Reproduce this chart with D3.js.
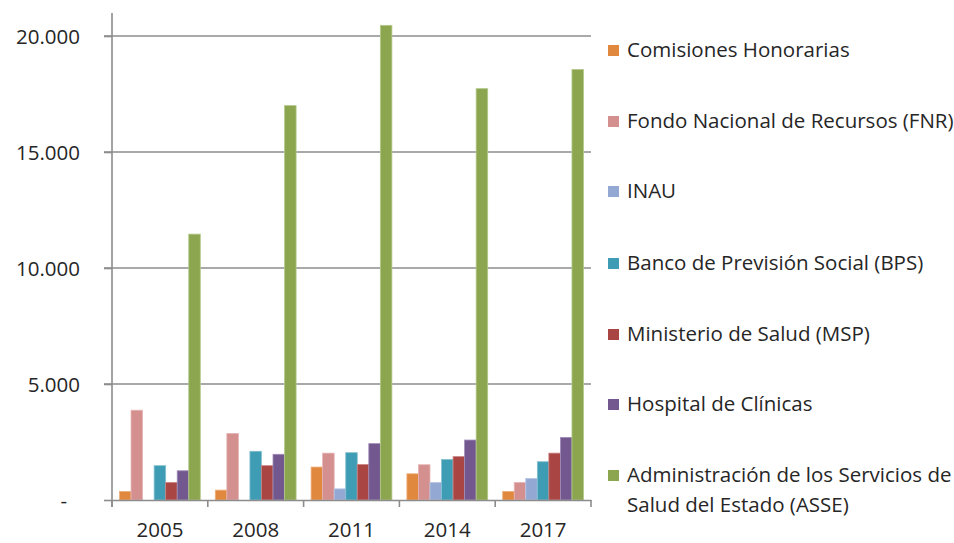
<!DOCTYPE html>
<html>
<head>
<meta charset="utf-8">
<script src="https://cdn.jsdelivr.net/npm/d3@7"></script>
<style>
  body { margin: 0; background: #fff; }
  text { font-family: "Open Sans", "Noto Sans", sans-serif; fill: #262626; }
</style>
</head>
<body>
<div id="chart"></div>
<script>
// years on the x axis
let years = ['2005', '2008', '2011', '2014', '2017'];

// one array per institution, same order as years
let comisiones = [370, 425, 1420, 1130, 370];
let fnr        = [3870, 2870, 2020, 1520, 756];
let inau       = [0, 0, 480, 756, 930];
let bps        = [1480, 2100, 2040, 1750, 1650];
let msp        = [756, 1480, 1530, 1870, 2020];
let clinicas   = [1260, 1970, 2430, 2585, 2700];
let asse       = [11460, 17000, 20460, 17730, 18560];

let seriesNames = [
  'Comisiones Honorarias',
  'Fondo Nacional de Recursos (FNR)',
  'INAU',
  'Banco de Previsión Social (BPS)',
  'Ministerio de Salud (MSP)',
  'Hospital de Clínicas',
  'Administración de los Servicios de Salud del Estado (ASSE)'
];
let seriesValues = [comisiones, fnr, inau, bps, msp, clinicas, asse];
let colors = ['#E0883E', '#D48F8F', '#93A9D4', '#3E9CB4', '#A94543', '#72588F', '#8BA64E'];
let strokes = ['#EDAE7C', '#E6B5B5', '#B7C6E4', '#86C1D0', '#C98382', '#A08CB8', '#B4C98A'];

let yTicks = [0, 5000, 10000, 15000, 20000];

let chart_width = 954;
let chart_height = 543;
let fontSize = '20.5px';

let svg = d3.select('#chart')
  .append('svg')
  .attr('width', chart_width)
  .attr('height', chart_height);

let x_scale = d3.scaleBand()
  .domain(years)
  .range([112, 591]);

let inner = d3.scaleBand()
  .domain(d3.range(seriesNames.length))
  .range([7.5, x_scale.bandwidth() - 7.5]);

let y_scale = d3.scaleLinear()
  .domain([0, 20000])
  .range([500, 36]);

// gridlines
svg.append('g')
  .selectAll('line')
  .data(yTicks.slice(1))
  .enter()
  .append('line')
  .attr('x1', 104)
  .attr('x2', 591)
  .attr('y1', d => y_scale(d))
  .attr('y2', d => y_scale(d))
  .attr('stroke', '#8c8c8c')
  .attr('stroke-width', 1.6);

// bars
seriesValues.forEach((vals, s) => {
  svg.append('g')
    .selectAll('rect')
    .data(vals.map((v, i) => ({ year: years[i], v })).filter(d => d.v > 0))
    .enter()
    .append('rect')
    .attr('x', d => x_scale(d.year) + inner(s))
    .attr('y', d => y_scale(d.v))
    .attr('width', inner.bandwidth())
    .attr('height', d => y_scale(0) - y_scale(d.v))
    .attr('fill', colors[s])
    .attr('stroke', strokes[s])
    .attr('stroke-width', 0.8);
});

// y axis
let y_axis = d3.axisLeft(y_scale)
  .tickValues(yTicks)
  .tickSize(8)
  .tickPadding(24)
  .tickFormat(d => d === 0 ? '-' : d3.format(',')(d).replace(/,/g, '.'));

let yg = svg.append('g')
  .attr('transform', 'translate(112,0)')
  .call(y_axis);
yg.select('.domain').remove();
yg.selectAll('.tick line').attr('stroke', '#8c8c8c').attr('stroke-width', 1.6);
yg.selectAll('text').style('font-size', fontSize).attr('dy', '0.36em');
yg.selectAll('.tick').filter(d => d === 0).select('text').attr('x', -45);

svg.append('line')
  .attr('x1', 112).attr('x2', 112)
  .attr('y1', 13).attr('y2', 507)
  .attr('stroke', '#8c8c8c')
  .attr('stroke-width', 1.6);

// x axis
let x_axis = d3.axisBottom(x_scale)
  .tickSize(0)
  .tickPadding(22);

let xg = svg.append('g')
  .attr('transform', 'translate(0,500)')
  .call(x_axis);
xg.select('.domain').attr('stroke', '#8c8c8c').attr('stroke-width', 1.6);
xg.selectAll('text').style('font-size', fontSize);

svg.append('g')
  .selectAll('line')
  .data(years.concat(['end']))
  .enter()
  .append('line')
  .attr('x1', (d, i) => 112 + i * x_scale.step())
  .attr('x2', (d, i) => 112 + i * x_scale.step())
  .attr('y1', 500)
  .attr('y2', 507)
  .attr('stroke', '#8c8c8c')
  .attr('stroke-width', 1.6);

// legend
let legendY = [50, 121, 191, 263, 334, 404, 475];
let legend = svg.append('g');
seriesNames.forEach((name, s) => {
  let g = legend.append('g').attr('transform', 'translate(608,' + legendY[s] + ')');
  g.append('rect')
    .attr('x', 0).attr('y', -5)
    .attr('width', 11).attr('height', 11)
    .attr('fill', colors[s]);
  let t = g.append('text')
    .attr('x', 19)
    .attr('dy', '0.36em')
    .style('font-size', fontSize);
  if (s === 6) {
    t.append('tspan').text('Administración de los Servicios de');
    t.append('tspan').attr('x', 19).attr('dy', 30).text('Salud del Estado (ASSE)');
  } else {
    t.text(name);
  }
});
</script>
</body>
</html>
